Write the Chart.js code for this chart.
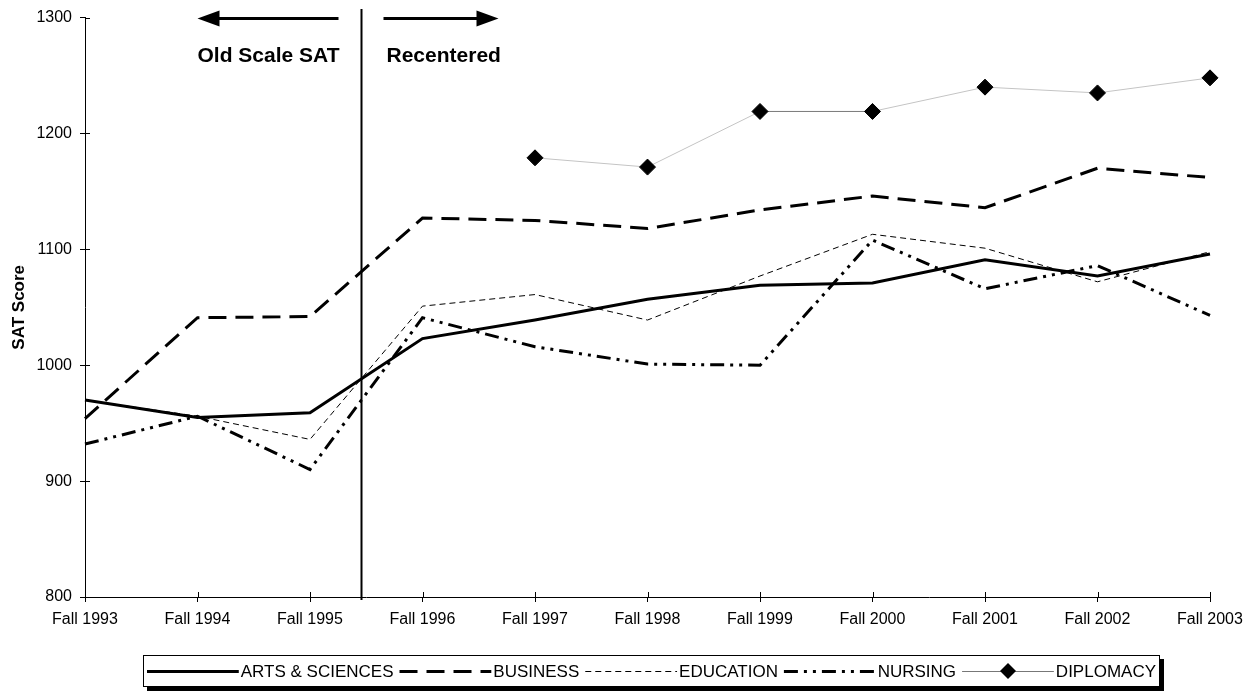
<!DOCTYPE html>
<html>
<head>
<meta charset="utf-8">
<script src="https://cdn.jsdelivr.net/npm/chart.js@4.4.1/dist/chart.umd.min.js"></script>
<style>
  html, body { margin: 0; padding: 0; background: #fff; }
  #wrap { width: 1258px; height: 698px; }
</style>
</head>
<body>
<div id="wrap"><canvas id="chart"></canvas></div>
<script>
// Data
const years = ['Fall 1993', 'Fall 1994', 'Fall 1995', 'Fall 1996', 'Fall 1997', 'Fall 1998',
  'Fall 1999', 'Fall 2000', 'Fall 2001', 'Fall 2002', 'Fall 2003'];
const artsSciences = [970, 955, 959, 1023, 1039, 1057, 1069, 1071, 1091, 1077, 1096];
const business = [954, 1041, 1042, 1127, 1125, 1118, 1134, 1146, 1136, 1170, 1162];
const education = [970, 956, 936, 1051, 1061, 1039, 1077, 1113, 1101, 1072, 1098];
const nursing = [932, 956, 910, 1041, 1016, 1001, 1000, 1108, 1066, 1086, 1043];
const diplomacy = [null, null, null, null, 1179, 1171, 1219, 1219, 1240, 1235, 1248];
const yMin = 800, yMax = 1300, yStep = 100;

// where the scale changed (between Fall 1995 and Fall 1996)
const separatorAt = 2.45;
const leftNote = 'Old Scale SAT';
const rightNote = 'Recentered';

const FONT = 'Arial, "Liberation Sans", sans-serif';

// Separator line, arrows and notes, plus ticks that cross the axes
const notesPlugin = {
  id: 'notes',
  afterDatasetsDraw(chart) {
    const ctx = chart.ctx;
    const xs = chart.scales.x, ys = chart.scales.y;
    const area = chart.chartArea;
    const sx = Math.round(xs.getPixelForValue(separatorAt)) + 0.5;
    ctx.save();
    ctx.strokeStyle = '#000';
    ctx.fillStyle = '#000';

    // inner half of the tick marks
    ctx.lineWidth = 1;
    ctx.beginPath();
    ys.ticks.forEach((t, i) => {
      const y = Math.round(ys.getPixelForTick(i)) + 0.5;
      ctx.moveTo(area.left, y); ctx.lineTo(area.left + 5, y);
    });
    xs.ticks.forEach((t, i) => {
      const x = Math.round(xs.getPixelForTick(i)) + 0.5;
      ctx.moveTo(x, area.bottom); ctx.lineTo(x, area.bottom - 5);
    });
    ctx.stroke();

    ctx.lineWidth = 2;
    ctx.beginPath();
    ctx.moveTo(sx, 9);
    ctx.lineTo(sx, area.bottom + 3);
    ctx.stroke();

    const ay = 18.5;
    ctx.lineWidth = 3;
    // left arrow
    ctx.beginPath();
    ctx.moveTo(sx - 23, ay); ctx.lineTo(sx - 145, ay);
    ctx.stroke();
    ctx.beginPath();
    ctx.moveTo(sx - 164, ay); ctx.lineTo(sx - 142, ay - 8); ctx.lineTo(sx - 142, ay + 8);
    ctx.closePath(); ctx.fill();
    // right arrow
    ctx.beginPath();
    ctx.moveTo(sx + 22, ay); ctx.lineTo(sx + 118, ay);
    ctx.stroke();
    ctx.beginPath();
    ctx.moveTo(sx + 137, ay); ctx.lineTo(sx + 115, ay - 8); ctx.lineTo(sx + 115, ay + 8);
    ctx.closePath(); ctx.fill();

    ctx.font = 'bold 21px ' + FONT;
    ctx.textBaseline = 'middle';
    ctx.textAlign = 'right';
    ctx.fillText(leftNote, sx - 22, 56);
    ctx.textAlign = 'left';
    ctx.fillText(rightNote, sx + 25, 56);
    ctx.restore();
  }
};

// Boxed legend with a drop shadow, like the spreadsheet original
const boxLegendPlugin = {
  id: 'boxLegend',
  afterDraw(chart) {
    const ctx = chart.ctx;
    const left = 143, top = 655, w = 1017, h = 32;
    ctx.save();
    ctx.fillStyle = '#000';
    ctx.fillRect(left + 4, top + 4, w, h);
    ctx.fillStyle = '#fff';
    ctx.fillRect(left, top, w, h);
    ctx.strokeStyle = '#000';
    ctx.lineWidth = 1;
    ctx.strokeRect(left + 0.5, top + 0.5, w - 1, h - 1);

    ctx.font = '17px ' + FONT;
    const sets = chart.data.datasets;
    const textW = sets.map(ds => ctx.measureText(ds.label).width);
    const gapAfterSample = 2, gapAfterText = 6, pad = 4;
    const sampleW = (w - 2 * pad - textW.reduce((a, b) => a + b, 0)
      - sets.length * gapAfterSample - (sets.length - 1) * gapAfterText) / sets.length;
    let x = left + pad;
    const cy = top + h / 2;
    sets.forEach((ds, i) => {
      ctx.save();
      ctx.strokeStyle = ds.legendLine || ds.borderColor;
      ctx.lineWidth = ds.borderWidth;
      ctx.setLineDash(ds.borderDash || []);
      ctx.beginPath();
      ctx.moveTo(x, cy + 0.5);
      ctx.lineTo(x + sampleW, cy + 0.5);
      ctx.stroke();
      if (ds.pointRadius > 0) {
        const mx = x + sampleW / 2, r = ds.pointRadius;
        ctx.setLineDash([]);
        ctx.fillStyle = ds.pointBackgroundColor;
        ctx.beginPath();
        ctx.moveTo(mx - r, cy); ctx.lineTo(mx, cy - r); ctx.lineTo(mx + r, cy); ctx.lineTo(mx, cy + r);
        ctx.closePath(); ctx.fill();
      }
      ctx.restore();
      x += sampleW + gapAfterSample;
      ctx.fillStyle = '#000';
      ctx.textBaseline = 'middle';
      ctx.textAlign = 'left';
      ctx.fillText(ds.label, x, cy + 1);
      x += textW[i] + gapAfterText;
    });
    ctx.restore();
  }
};

const lineBase = { fill: false, tension: 0, pointRadius: 0, pointHoverRadius: 0, borderColor: '#000', spanGaps: false };

new Chart(document.getElementById('chart'), {
  type: 'line',
  data: {
    labels: years,
    datasets: [
      { ...lineBase, label: 'ARTS & SCIENCES', data: artsSciences, borderWidth: 3 },
      { ...lineBase, label: 'BUSINESS', data: business, borderWidth: 3, borderDash: [18, 9] },
      { ...lineBase, label: 'EDUCATION', data: education, borderWidth: 1, borderDash: [6, 4] },
      { ...lineBase, label: 'NURSING', data: nursing, borderWidth: 3, borderDash: [14, 6, 3, 6, 3, 6] },
      {
        ...lineBase, label: 'DIPLOMACY', data: diplomacy, borderWidth: 1,
        borderColor: '#c4c4c4', legendLine: '#777',
        pointStyle: 'rectRot', pointRadius: 8, pointHoverRadius: 8,
        pointBackgroundColor: '#000', pointBorderColor: '#000', pointBorderWidth: 1,
        segment: { borderColor: c => c.p0DataIndex === 6 ? '#7a7a7a' : undefined }
      }
    ]
  },
  options: {
    responsive: true,
    maintainAspectRatio: false,
    animation: false,
    events: [],
    layout: { padding: { top: 15, right: 48, bottom: 61, left: 9 } },
    plugins: {
      legend: { display: false },
      tooltip: { enabled: false }
    },
    scales: {
      x: {
        type: 'category',
        offset: false,
        grid: { drawOnChartArea: false, color: '#000', tickLength: 5 },
        border: { color: '#000', width: 1 },
        ticks: { color: '#000', font: { family: FONT, size: 16 }, padding: 8, maxRotation: 0, autoSkip: false },
        afterFit: s => { s.height = 40; }
      },
      y: {
        min: yMin, max: yMax,
        grid: { drawOnChartArea: false, color: '#000', tickLength: 5 },
        border: { color: '#000', width: 1 },
        ticks: { stepSize: yStep, color: '#000', font: { family: FONT, size: 16 }, padding: 8, callback: v => String(v) },
        title: { display: true, text: 'SAT Score', color: '#000', font: { family: FONT, size: 17, weight: 'bold' }, padding: 0 },
        afterFit: s => { s.width = 76; }
      }
    }
  },
  plugins: [notesPlugin, boxLegendPlugin]
});
</script>
</body>
</html>
